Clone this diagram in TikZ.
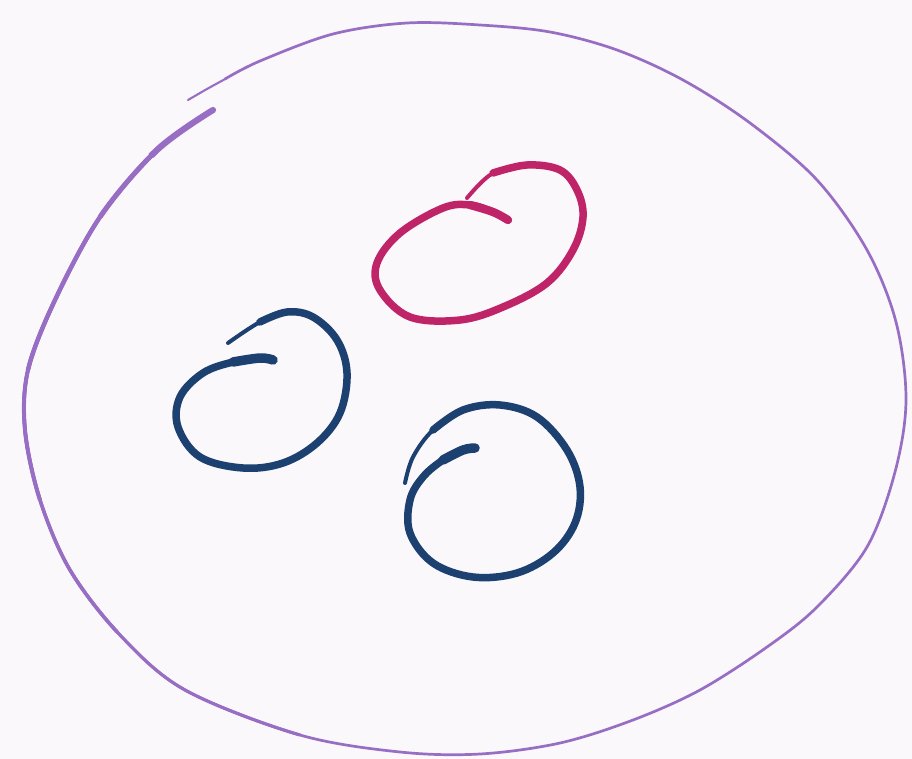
\documentclass[tikz,border=0pt]{standalone}
\usetikzlibrary{calc}
\definecolor{bgc}{RGB}{250,248,250}
\definecolor{lavc}{RGB}{152,110,196}
\definecolor{magc}{RGB}{192,36,104}
\definecolor{navc}{RGB}{28,64,112}
\newcommand\bigloop{plot[smooth,tension=0.55] coordinates {
 (225,79) (260,61) (333,34) (407,23) (480,25) (550,32) (617,50) (683,80)
 (750,123) (817,180) (867,250) (896,322) (906,400) (895,472) (867,547)
 (817,607) (767,647) (700,690) (633,720) (560,743) (480,754) (400,752)
 (300,735) (185,690) (120,635) (70,570) (40,500) (25,430)
 (28,370) (55,300) (100,217) (157,150) (213,110)}}
\newcommand\wedgeclip[1]{\clip (C) -- ($(C)!5!(#1)$) -- (-3000,3000) -- (-3000,-3000) -- ($(C)!5!(213,110)$) -- cycle;}
\begin{document}
\begin{tikzpicture}[x=1pt,y=-1pt,
  stroke/.style={line cap=round,line join=round},
  lav/.style={stroke,draw=lavc},
  mag/.style={stroke,draw=magc},
  nav/.style={stroke,draw=navc}]
\fill[bgc] (0,0) rectangle (912,759);
\useasboundingbox (0,0) rectangle (912,759);
\coordinate (C) at (465,390);
% big lavender loop, thin start, thickening toward its end
\draw[lav,line width=2.1pt] plot[smooth,tension=0.55] coordinates {(188,100) (207,89) (227,78)};
\draw[lav,line width=2.7pt] \bigloop;
\begin{scope}\wedgeclip{300,735}\draw[lav,line width=3.2pt] \bigloop;\end{scope}
\begin{scope}\wedgeclip{117,633}\draw[lav,line width=3.6pt] \bigloop;\end{scope}
\begin{scope}\wedgeclip{40,500}\draw[lav,line width=4pt] \bigloop;\end{scope}
\begin{scope}\wedgeclip{28,370}\draw[lav,line width=4.4pt] \bigloop;\end{scope}
\begin{scope}\wedgeclip{100,217}\draw[lav,line width=5pt] \bigloop;\end{scope}
\begin{scope}\wedgeclip{150,155}\draw[lav,line width=6.2pt] \bigloop;\end{scope}
\fill[lavc] (213,110) circle (3.1);
% magenta loop
\draw[mag,line width=4pt] plot[smooth,tension=0.6] coordinates {
 (467,198) (493,173) (527,165) (560,170) (577,190) (583,217) (573,250)};
\draw[mag,line width=7.5pt] plot[smooth,tension=0.6] coordinates {
 (493,173) (527,165) (560,170) (577,190) (583,217) (573,250) (547,283)
 (503,307) (460,320) (410,317) (380,290) (377,263) (400,233) (443,208)
 (470,205) (493,212) (508,220)};
\draw[mag,line width=8.3pt] plot[smooth,tension=0.6] coordinates {
 (470,205) (493,212) (508,220)};
% navy loop 1
\draw[nav,line width=4pt] plot[smooth,tension=0.6] coordinates {
 (228,343) (260,322) (287,312) (313,317)};
\draw[nav,line width=7.5pt] plot[smooth,tension=0.6] coordinates {
 (260,322) (287,312) (313,317) (337,340) (347,373) (340,413) (317,443)
 (283,463) (243,468) (200,457) (178,427) (180,397) (203,373) (233,362)
 (260,358) (273,360)};
\draw[nav,line width=9.5pt] plot[smooth,tension=0.6] coordinates {
 (233,362) (260,358) (273,360)};
% navy loop 2
\draw[nav,line width=4pt] plot[smooth,tension=0.6] coordinates {
 (405,483) (413,457) (433,430) (463,410)};
\draw[nav,line width=7.5pt] plot[smooth,tension=0.6] coordinates {
 (433,430) (463,410) (500,405) (537,417) (567,450) (580,487) (575,523)
 (553,553) (517,573) (473,577) (433,563) (410,533) (410,500) (423,477)
 (443,460) (463,450) (475,448)};
\draw[nav,line width=9.5pt] plot[smooth,tension=0.6] coordinates {
 (443,460) (463,450) (475,448)};
\end{tikzpicture}
\end{document}
